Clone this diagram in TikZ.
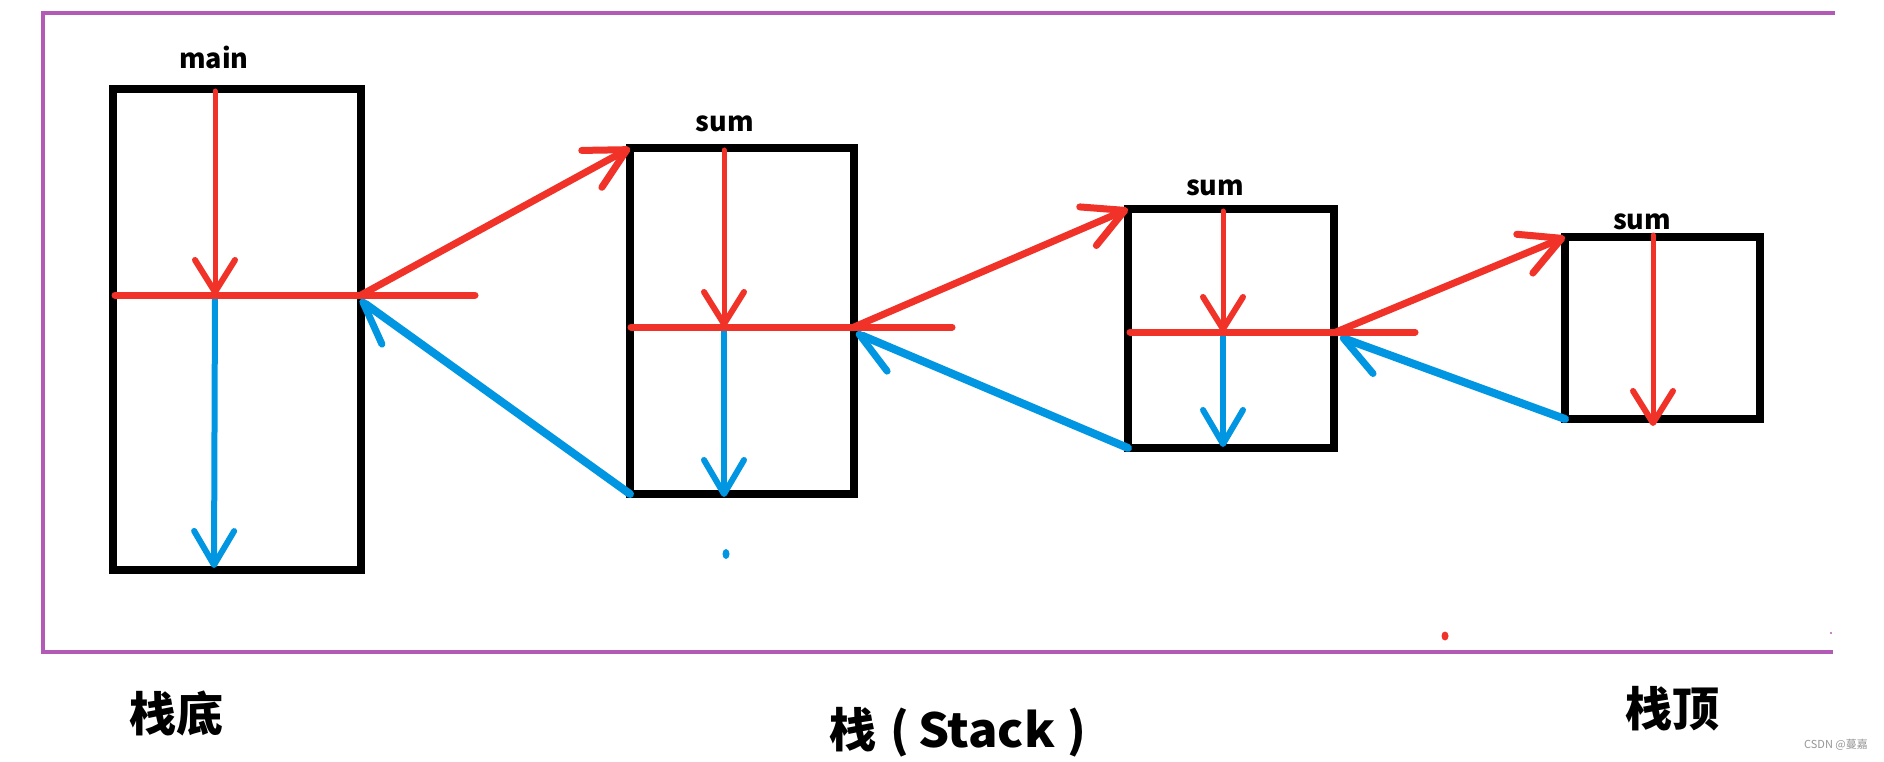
\documentclass[tikz,border=0pt]{standalone}
\usepackage{graphicx}
\usepackage{fontspec}
\newfontfamily\cjk{Noto Sans CJK SC}
\usetikzlibrary{arrows.meta}
\definecolor{myred}{RGB}{240,50,40}
\definecolor{myblue}{RGB}{0,150,225}
\definecolor{mypurple}{RGB}{178,90,182}
\definecolor{wmgray}{RGB}{150,150,150}
\begin{document}
\begin{tikzpicture}[x=1pt,y=-1pt,
  box/.style={draw=black,line width=8pt,inner sep=0pt,outer sep=0pt},
  frameline/.style={draw=mypurple,line width=4pt},
  lbl/.style={font=\cjk\bfseries\fontsize{27}{30}\selectfont,inner sep=0pt},
  big/.style={font=\cjk\bfseries\fontsize{47}{52}\selectfont,inner sep=0pt},
  wm/.style={font=\cjk\fontsize{11}{12}\selectfont,text=wmgray,inner sep=0pt},
  redline/.style={draw=myred,line width=7pt,line cap=round},
  reddown/.style={draw=myred,line width=5pt,line cap=round,
    -{Straight Barb[length=32pt,width=40pt,line width=6pt,round]}},
  reddiag/.style={draw=myred,line width=7pt,line cap=round,
    -{Straight Barb[length=40pt,width=42pt,line width=7pt,round]}},
  bluedown/.style={draw=myblue,line width=6pt,line cap=round,
    -{Straight Barb[length=34pt,width=40pt,line width=6pt,round]}},
  bluediag/.style={draw=myblue,line width=8pt,line cap=round,
    -{Straight Barb[harpoon,length=40pt,width=46pt,line width=7pt,round]}}
]
\useasboundingbox (0,0) rectangle (1884,762);
\fill[white] (0,0) rectangle (1884,762);
% frame
\draw[frameline] (1835,13) -- (43,13) -- (43,652) -- (1833,652);
\fill[mypurple] (1831,633) circle (1.2);
% boxes
\node[box,minimum width=248pt,minimum height=481pt] (b1) at (237,329.5) {};
\node[box,minimum width=224pt,minimum height=346pt] (b2) at (742,321) {};
\node[box,minimum width=206pt,minimum height=239pt] (b3) at (1231,328.5) {};
\node[box,minimum width=195pt,minimum height=182pt] (b4) at (1662.5,328) {};
% labels
\node[lbl] (m) at (214,57) {main};
\node[lbl] (s2) at (725,124) {sum};
\node[lbl] (s3) at (1215,188) {sum};
\node[lbl] (s4) at (1642,222) {sum};
% coordinates
\coordinate (t1) at (215,91);  \coordinate (c1) at (215,295);
\coordinate (l1) at (115,295); \coordinate (e1) at (361,295);
\coordinate (r1) at (475,295); \coordinate (d1) at (214,568);
\coordinate (g1) at (360,300);
\coordinate (t2) at (724,150); \coordinate (c2) at (724,327);
\coordinate (l2) at (631,327); \coordinate (e2) at (854,327);
\coordinate (r2) at (952,327); \coordinate (d2) at (724,497);
\coordinate (g2) at (856,333);
\coordinate (t3) at (1223,211); \coordinate (c3) at (1223,332);
\coordinate (l3) at (1130,332); \coordinate (e3) at (1336,332);
\coordinate (r3) at (1415,332); \coordinate (d3) at (1223,447);
\coordinate (g3) at (1340,337);
\coordinate (t4) at (1653,235); \coordinate (d4) at (1653,426);
% blue arrows
\draw[bluedown] (c1) -- (d1);
\draw[bluedown] (c2) -- (d2);
\draw[bluedown] (c3) -- (d3);
\draw[bluediag] (b2.south west) -- (g1);
\draw[bluediag] (b3.south west) -- (g2);
\draw[bluediag] (b4.south west) -- (g3);
% red lines and arrows
\draw[redline] (l1) -- (r1);
\draw[redline] (l2) -- (r2);
\draw[redline] (l3) -- (r3);
\draw[reddown] (t1) -- (c1);
\draw[reddown] (t2) -- (c2);
\draw[reddown] (t3) -- (c3);
\draw[reddown] (t4) -- (d4);
\draw[reddiag] (e1) -- (b2.north west);
\draw[reddiag] (e2) -- (b3.north west);
\draw[reddiag] (e3) -- (b4.north west);
% dots
\fill[myblue] (726,554) ellipse (3.5 and 5);
\fill[myred] (1445,636) ellipse (3.5 and 4.5);
% bottom labels
\node[big] (bot) at (176,713) {栈底};
\node[big,anchor=west] (stk) at (829,732) {栈\hspace{14pt}(\hspace{9pt}\scalebox{1.04}[1]{Stack}\hspace{12pt})};
\node[big] (top) at (1672,709) {栈顶};
\node[wm] (wmk) at (1836,745) {CSDN @蔓嘉};
\end{tikzpicture}
\end{document}
